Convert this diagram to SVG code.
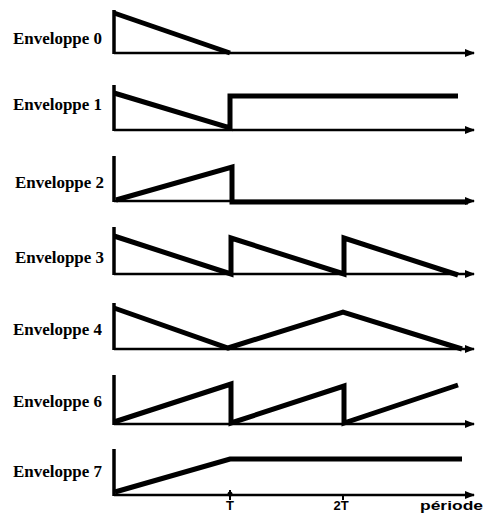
<svg xmlns="http://www.w3.org/2000/svg" width="485" height="520" viewBox="0 0 485 520">
<defs>
<marker id="arr" markerWidth="10" markerHeight="8" refX="9" refY="4" orient="auto" markerUnits="userSpaceOnUse">
<path d="M0,0 L10,4 L0,8 Z" fill="#000"/>
</marker>
<style>
.lbl{font-family:"Liberation Serif","Times New Roman",serif;font-weight:bold;font-size:16px;fill:#000}
.ax{stroke:#000;stroke-width:2.5;fill:none}
.vx{stroke:#000;stroke-width:3.5;fill:none}
.sig{stroke:#000;stroke-width:5;fill:none;stroke-linejoin:miter;stroke-linecap:butt}
.sm{font-family:"Liberation Sans",Arial,sans-serif;font-weight:bold;font-size:13px;fill:#000}
</style>
</defs>
<rect width="485" height="520" fill="#fff"/>
<g id="env0">
<text class="lbl" x="13" y="44" textLength="89" lengthAdjust="spacingAndGlyphs">Enveloppe 0</text>
<path class="vx" d="M114,10 V54"/>
<path class="ax" d="M114,53 H474" marker-end="url(#arr)"/>
<path class="sig" d="M114,13 L230,53"/>
</g>
<g id="env1">
<text class="lbl" x="13" y="110" textLength="89" lengthAdjust="spacingAndGlyphs">Enveloppe 1</text>
<path class="vx" d="M114,85 V131"/>
<path class="ax" d="M114,130 H474" marker-end="url(#arr)"/>
<path class="sig" d="M114,93 L230,128 V96 H458"/>
</g>
<g id="env2">
<text class="lbl" x="15" y="188" textLength="89" lengthAdjust="spacingAndGlyphs">Enveloppe 2</text>
<path class="vx" d="M114,156 V202"/>
<path class="ax" d="M114,201 H474" marker-end="url(#arr)"/>
<path class="sig" d="M116,200 L232,167 V202 H468"/>
</g>
<g id="env3">
<text class="lbl" x="15" y="263" textLength="89" lengthAdjust="spacingAndGlyphs">Enveloppe 3</text>
<path class="vx" d="M114,227 V275"/>
<path class="ax" d="M114,274 H474" marker-end="url(#arr)"/>
<path class="sig" d="M114,236 L231,274 V238 L344,274 V238 L458,275"/>
</g>
<g id="env4">
<text class="lbl" x="13" y="335" textLength="89" lengthAdjust="spacingAndGlyphs">Enveloppe 4</text>
<path class="vx" d="M114,303 V350"/>
<path class="ax" d="M114,349 H474" marker-end="url(#arr)"/>
<path class="sig" d="M114,308 L228,348 L343,312 L462,349"/>
</g>
<g id="env6">
<text class="lbl" x="13" y="407" textLength="89" lengthAdjust="spacingAndGlyphs">Enveloppe 6</text>
<path class="vx" d="M114,375 V425"/>
<path class="ax" d="M114,424 H474" marker-end="url(#arr)"/>
<path class="sig" d="M114,422 L231,384 V423 L344,386 V423 L458,385"/>
</g>
<g id="env7">
<text class="lbl" x="13" y="477" textLength="89" lengthAdjust="spacingAndGlyphs">Enveloppe 7</text>
<path class="vx" d="M114,449 V496"/>
<path class="ax" d="M114,495 H474" marker-end="url(#arr)"/>
<path class="sig" d="M115,492 L230,459 H462"/>
</g>
<g id="timeaxis">
<circle cx="230" cy="494" r="2.5" fill="#000"/>
<path d="M230,490 V500" stroke="#000" stroke-width="2"/>
<path d="M343,495 V500" stroke="#000" stroke-width="2"/>
<text class="sm" x="230" y="510" text-anchor="middle">T</text>
<text class="sm" x="341" y="510" text-anchor="middle">2T</text>
<text class="sm" x="420" y="510" textLength="63" lengthAdjust="spacingAndGlyphs">période</text>
</g>
</svg>
